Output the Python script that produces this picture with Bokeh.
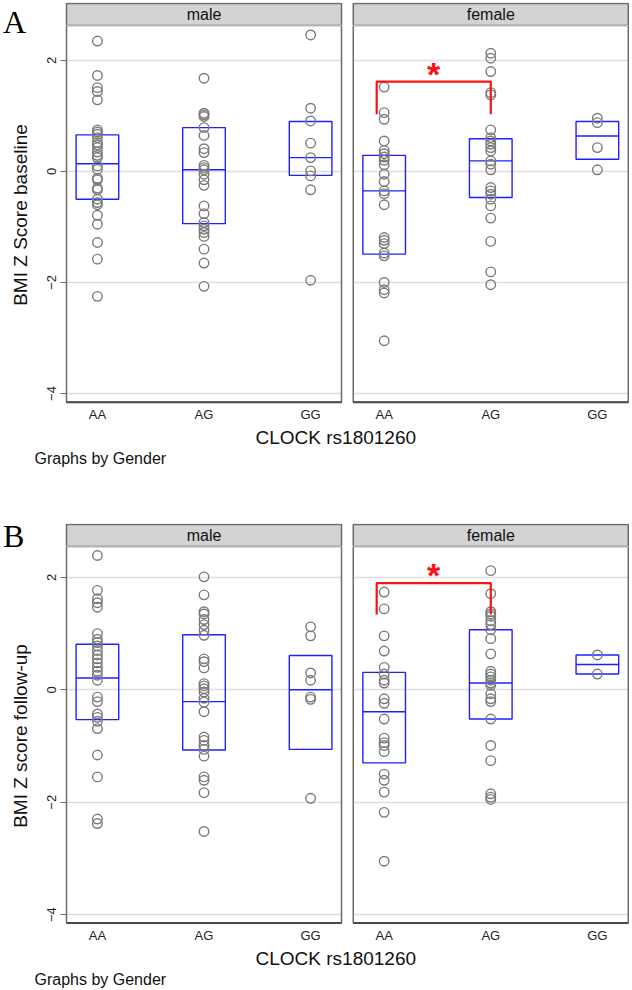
import numpy as np
from bokeh.plotting import figure
from bokeh.models import Range1d, FixedTicker, Title, Div
from bokeh.layouts import column
from bokeh.embed import file_html
from bokeh.resources import INLINE
from bokeh.core.properties import value

# ---------------- data ----------------
genders = ["male", "female"]
genotypes = ["AA", "AG", "GG"]
y_ticks = [-4, -2, 0, 2]
x_title = "CLOCK rs1801260"
note = "Graphs by Gender"

# A: BMI Z Score baseline
a_male_AA = [2.35, 1.73, 1.51, 1.44, 1.29, 0.75, 0.71, 0.67, 0.61, 0.52, 0.48, 0.43, 0.35, 0.29, 0.25,
             0.10, 0.04, -0.12, -0.15, -0.30, -0.33, -0.50, -0.56, -0.60, -0.79, -0.95, -1.28, -1.58, -2.25]
a_male_AG = [1.68, 1.05, 1.02, 0.99, 0.79, 0.65, 0.41, 0.34, 0.11, 0.07, 0.03, -0.05, -0.15, -0.25,
             -0.62, -0.76, -0.92, -0.98, -1.04, -1.10, -1.17, -1.40, -1.65, -2.07]
a_male_GG = [2.46, 1.14, 0.91, 0.51, 0.25, 0.01, -0.08, -0.33, -1.96]
a_female_AA = [1.52, 1.06, 0.94, 0.55, 0.38, 0.32, 0.26, 0.20, 0.12, -0.05, -0.18, -0.35, -0.40, -0.60,
               -1.19, -1.24, -1.30, -1.47, -1.52, -2.00, -2.13, -2.19, -3.05]
a_female_AG = [2.13, 2.04, 1.80, 1.42, 1.38, 0.75, 0.61, 0.55, 0.49, 0.43, 0.37, 0.19, 0.13, 0.03,
               -0.29, -0.35, -0.41, -0.50, -0.62, -0.84, -1.26, -1.81, -2.04]
a_female_GG = [0.96, 0.88, 0.43, 0.03]
a_male_q75 = [0.66, 0.79, 0.90]
a_male_med = [0.14, 0.03, 0.25]
a_male_q25 = [-0.50, -0.94, -0.07]
a_female_q75 = [0.29, 0.59, 0.90]
a_female_med = [-0.35, 0.19, 0.64]
a_female_q25 = [-1.49, -0.47, 0.22]
a_sig = [1.62, 1.03, 1.81]   # bracket top, leg end, star

# B: BMI Z score follow-up
b_male_AA = [2.39, 1.77, 1.62, 1.55, 1.47, 1.00, 0.90, 0.84, 0.78, 0.70, 0.62, 0.55, 0.48, 0.40, 0.33,
             0.26, 0.17, -0.13, -0.21, -0.43, -0.49, -0.56, -0.69, -1.16, -1.55, -2.30, -2.38]
b_male_AG = [2.01, 1.69, 1.39, 1.35, 1.25, 1.16, 1.06, 0.97, 0.55, 0.50, 0.39, 0.11, 0.07, 0.02, -0.04,
             -0.15, -0.22, -0.39, -0.84, -0.90, -0.99, -1.06, -1.18, -1.55, -1.61, -1.83, -2.52]
b_male_GG = [1.12, 0.96, 0.30, 0.17, -0.13, -0.17, -1.93]
b_female_AA = [1.74, 1.44, 0.96, 0.69, 0.40, 0.28, 0.17, 0.12, -0.16, -0.24, -0.52, -0.86, -0.94, -0.99,
               -1.10, -1.50, -1.61, -1.82, -2.18, -3.05]
b_female_AG = [2.12, 1.71, 1.39, 1.35, 1.31, 1.23, 1.16, 1.07, 0.91, 0.64, 0.33, 0.28, 0.23, 0.17, 0.12,
               0.08, -0.07, -0.16, -0.21, -0.52, -0.99, -1.26, -1.85, -1.91, -1.95]
b_female_GG = [0.62, 0.28]
b_male_q75 = [0.81, 0.98, 0.61]
b_male_med = [0.21, -0.21, 0.00]
b_male_q25 = [-0.53, -1.07, -1.06]
b_female_q75 = [0.31, 1.07, 0.62]
b_female_med = [-0.39, 0.12, 0.45]
b_female_q25 = [-1.30, -0.52, 0.28]
b_sig = [1.90, 1.34, 2.09]

# ---------------- layout / style ----------------
FONT = "Liberation Sans"
PX_X = 106.6
PAD = 0.29
GAP = 0.11
BOX_HALF = 0.2
SHIFT = 2 + 2 * PAD + GAP
EDGE = 2
LEFT_BORDER = 64
STRIP_H = 22
BORDER = "#6b6b6b"
STRIP = "#d3d3d3"
GRID = "#dedede"
MARK = "#7a7a7a"
BLUE = "#2020ff"
RED = "#ff1010"


def cat_x(g, k):
    return 1 + k + g * SHIFT


def p_left(g):
    return 1 - PAD + g * SHIFT


def p_right(g):
    return 3 + PAD + g * SHIFT


X_LO, X_HI = p_left(0), p_right(1)
FW = int(round((X_HI - X_LO) * PX_X + 2 * EDGE))
XS = X_LO - EDGE / PX_X
XE = XS + FW / PX_X


def make_letter(letter, top):
    # zero-height text block: the panel letter overlaps the (transparent) plot borders below it
    h = 40
    return Div(text=letter, width=40, height=h,
               styles={"font-family": "Liberation Serif", "font-size": "32px",
                       "line-height": "32px", "color": "black",
                       "margin-top": f"{top}px", "margin-left": "3px",
                       "margin-bottom": f"{-(h + top)}px"})


def make_header(mb_top):
    hh = STRIP_H + 1
    h = figure(frame_width=FW, frame_height=hh,
               x_range=Range1d(XS, XE), y_range=Range1d(0, hh),
               min_border_left=LEFT_BORDER, min_border_right=0, min_border_top=mb_top,
               min_border_bottom=0, x_axis_location=None, y_axis_location=None,
               toolbar_location=None, output_backend="svg",
               outline_line_color=None, background_fill_color="white", border_fill_color=None)
    h.grid.visible = False
    for g in range(2):
        h.quad(left=[p_left(g)], right=[p_right(g)], bottom=[0], top=[STRIP_H],
               fill_color=STRIP, line_color=BORDER, line_width=1.5)
        h.text(x=[(p_left(g) + p_right(g)) / 2], y=[STRIP_H / 2], text=[genders[g]],
               text_align="center", text_baseline="middle", text_font=value(FONT),
               text_font_size="16px", text_color="#111111")
    return h


def make_main(ytitle, groups, q25, med, q75, sig, plot_top, y_bot, px_y, mb_bottom):
    fh = int(round((plot_top - y_bot) * px_y + EDGE))
    ye = plot_top
    ys = ye - fh / px_y
    p = figure(frame_width=FW, frame_height=fh,
               x_range=Range1d(XS, XE), y_range=Range1d(ys, ye),
               min_border_left=LEFT_BORDER, min_border_right=0,
               min_border_top=0, min_border_bottom=mb_bottom,
               toolbar_location=None, output_backend="svg",
               outline_line_color=None, background_fill_color="white",
               border_fill_color=None)

    # x axis
    xt = [cat_x(g, k) for g in range(2) for k in range(3)]
    p.xaxis.ticker = FixedTicker(ticks=xt)
    p.xaxis.major_label_overrides = {t: genotypes[i % 3] for i, t in enumerate(xt)}
    p.xaxis.axis_line_color = None
    p.xaxis.major_tick_line_color = None
    p.xaxis.minor_tick_line_color = None
    p.xaxis.major_tick_out = 0
    p.xaxis.major_tick_in = 0
    p.xaxis.major_label_standoff = 2
    p.xaxis.major_label_text_font = FONT
    p.xaxis.major_label_text_font_size = "13px"
    p.xaxis.major_label_text_color = "#222222"

    # y axis
    p.yaxis.ticker = FixedTicker(ticks=y_ticks)
    p.yaxis.axis_line_color = None
    p.yaxis.minor_tick_line_color = None
    p.yaxis.major_tick_line_color = BORDER
    p.yaxis.major_tick_out = 4
    p.yaxis.major_tick_in = 2
    p.yaxis.major_label_orientation = "vertical"
    p.yaxis.major_label_standoff = 4
    p.yaxis.major_label_text_font = FONT
    p.yaxis.major_label_text_font_size = "13px"
    p.yaxis.major_label_text_color = "#222222"
    p.yaxis.axis_label = ytitle
    p.yaxis.axis_label_text_font = FONT
    p.yaxis.axis_label_text_font_size = "19px"
    p.yaxis.axis_label_text_font_style = "normal"
    p.yaxis.axis_label_text_color = "#111111"
    p.yaxis.axis_label_standoff = 14

    p.xgrid.visible = False
    p.ygrid.ticker = FixedTicker(ticks=y_ticks)
    p.ygrid.grid_line_color = GRID
    p.ygrid.grid_line_width = 1.5

    # white outside panels (hide grid between panels)
    p.quad(left=[XS, p_right(0), p_right(1)], right=[p_left(0), p_left(1), XE],
           bottom=ys, top=ye, fill_color="white", line_color=None)

    # boxes
    for g in range(2):
        bx = [cat_x(g, k) for k in range(3)]
        p.quad(left=[x - BOX_HALF for x in bx], right=[x + BOX_HALF for x in bx],
               bottom=q25[g], top=q75[g], fill_color=None, line_color=BLUE, line_width=1.4)
        p.segment(x0=[x - BOX_HALF for x in bx], x1=[x + BOX_HALF for x in bx],
                  y0=med[g], y1=med[g], line_color=BLUE, line_width=1.4)

    # points
    for g in range(2):
        for k in range(3):
            vals = groups[g][k]
            p.scatter(x=[cat_x(g, k)] * len(vals), y=vals, size=9.5, fill_color=None,
                      line_color=MARK, line_width=1.4)

    # significance bracket
    top, leg, star = sig
    xl = cat_x(1, 0) - 0.07
    xr = cat_x(1, 1)
    p.line(x=[xl, xl, xr, xr], y=[leg, top, top, leg], line_color=RED, line_width=2.2)
    p.text(x=[(xl + xr) / 2], y=[star], text=["*"], text_align="center",
           text_baseline="alphabetic", y_offset=3, text_font=value(FONT),
           text_font_size="34px", text_font_style="bold", text_color=RED)

    # panel borders
    for g in range(2):
        p.quad(left=[p_left(g)], right=[p_right(g)], bottom=[y_bot], top=[plot_top],
               fill_color=None, line_color=BORDER, line_width=1.5)
        p.segment(x0=[p_left(g)], x1=[p_right(g)], y0=[y_bot], y1=[y_bot],
                  line_color="#4a4a4a", line_width=2)

    # x title and note below
    p.add_layout(Title(text=x_title, align="left", offset=191, standoff=0,
                       text_font=FONT, text_font_size="19px", text_font_style="normal",
                       text_color="#111111"), "below")
    p.add_layout(Title(text=note, align="left", offset=-30, standoff=0,
                       text_font=FONT, text_font_size="16px", text_font_style="normal",
                       text_color="#111111"), "below")
    return p


la = make_letter("A", 6)
ha = make_header(2)
pa = make_main("BMI Z Score baseline",
               [[a_male_AA, a_male_AG, a_male_GG], [a_female_AA, a_female_AG, a_female_GG]],
               [a_male_q25, a_female_q25], [a_male_med, a_female_med], [a_male_q75, a_female_q75],
               a_sig, 2.63, -4.16, 55.5, 70)
lb = make_letter("B", 46)
hb = make_header(49)
pb = make_main("BMI Z score follow-up",
               [[b_male_AA, b_male_AG, b_male_GG], [b_female_AA, b_female_AG, b_female_GG]],
               [b_male_q25, b_female_q25], [b_male_med, b_female_med], [b_male_q75, b_female_q75],
               b_sig, 2.55, -4.15, 56.2, 63)

layout = column(la, ha, pa, lb, hb, pb, spacing=0)
open("out.html", "w").write(file_html(layout, INLINE))
